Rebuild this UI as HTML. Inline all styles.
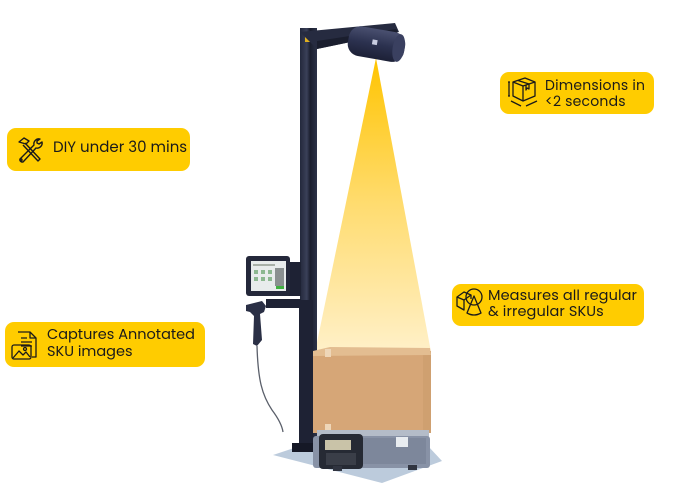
<!DOCTYPE html>
<html><head><meta charset="utf-8"><style>
html,body{margin:0;padding:0;background:#fff;}
body{width:675px;height:500px;position:relative;overflow:hidden;font-family:"Poppins","Liberation Sans",sans-serif;}
.b{position:absolute;background:#ffcc00;border-radius:9px;color:#1a1a1a;}
.t{position:absolute;font-size:14px;line-height:16px;letter-spacing:0;white-space:nowrap;color:#1a1a1a;}
svg.i{position:absolute;}
</style></head><body>

<svg width="675" height="500" style="position:absolute;left:0;top:0">
<defs>
<linearGradient id="cone" x1="0" y1="0" x2="0" y2="1">
<stop offset="0" stop-color="#ffc400"/>
<stop offset="0.5" stop-color="#ffdc70"/>
<stop offset="1" stop-color="#fff0c8"/>
</linearGradient>
<linearGradient id="pole" x1="0" y1="0" x2="1" y2="0">
<stop offset="0" stop-color="#23283c"/>
<stop offset="0.4" stop-color="#3a4058"/>
<stop offset="0.6" stop-color="#1a1e2e"/>
<stop offset="1" stop-color="#2c3248"/>
</linearGradient>
<linearGradient id="cyl" x1="0" y1="0" x2="0" y2="1">
<stop offset="0" stop-color="#4a5070"/>
<stop offset="0.5" stop-color="#2c3250"/>
<stop offset="1" stop-color="#1c2036"/>
</linearGradient>
</defs>
<!-- plate -->
<polygon points="273,455 300,446 428,446 442,461 382,483" fill="#bccbdc"/>
<!-- cone -->
<polygon points="376,58 315,352 431,352" fill="url(#cone)"/>
<!-- pole -->
<rect x="300" y="28" width="17" height="420" fill="url(#pole)"/>
<rect x="299" y="300" width="14" height="148" fill="#1e2234"/>
<rect x="292" y="443" width="21" height="9" fill="#151826"/>
<rect x="305" y="33" width="6" height="9" fill="#e0b020"/>
<!-- beam -->
<polygon points="300,32 395,23 399,32 317,49" fill="#262b40"/>
<polygon points="317,41 396,29 398,32 317,49" fill="#1a1e2e"/>
<!-- camera -->
<g transform="rotate(10 376 44)">
<rect x="348" y="29" width="57" height="30" rx="12" fill="url(#cyl)"/>
<ellipse cx="399" cy="44" rx="6" ry="14" fill="#3a4060"/>
<rect x="372" y="40" width="5" height="5" fill="#c8cce0"/>
</g>
<!-- monitor mount -->
<rect x="284" y="262" width="17" height="34" fill="#1e2234"/>
<rect x="266" y="299" width="35" height="9" fill="#1e2234"/>
<!-- monitor -->
<rect x="246" y="256" width="44" height="40" rx="3" fill="#24283a"/>
<rect x="251" y="261" width="35" height="30" fill="#e8ecec"/>
<rect x="253" y="264" width="22" height="2" fill="#a8b0a8"/>
<rect x="254" y="270" width="4" height="4" fill="#8cb890"/>
<rect x="261" y="270" width="4" height="4" fill="#8cb890"/>
<rect x="268" y="270" width="4" height="4" fill="#8cb890"/>
<rect x="254" y="277" width="4" height="4" fill="#8cb890"/>
<rect x="261" y="277" width="4" height="4" fill="#8cb890"/>
<rect x="268" y="277" width="4" height="4" fill="#8cb890"/>
<rect x="275" y="268" width="9" height="18" fill="#8a9090"/>
<rect x="276" y="286" width="8" height="3" fill="#40b040"/>
<!-- scanner -->
<path d="M246,305 L262,301 L266,306 L264,312 L260,314 L262,340 L257,346 L253,344 L254,316 L250,312 L246,311 Z" fill="#2a2f45"/>
<path d="M257,346 C258,380 262,395 272,410 C278,418 282,425 283,432" stroke="#5a5f6a" stroke-width="1.3" fill="none"/>
<!-- box -->
<rect x="313" y="351" width="118" height="82" fill="#d6a677"/>
<rect x="423" y="351" width="8" height="82" fill="#cfa070"/>
<polygon points="313,351 330,347 430,348 431,355 313,356" fill="#e3bd91"/>
<rect x="325" y="349" width="6" height="8" fill="#eed6b8"/>
<rect x="325" y="424" width="6" height="9" fill="#eed6b8"/>
<!-- scale -->
<rect x="317" y="430" width="112" height="8" fill="#b4bcc8"/>
<rect x="313" y="436" width="117" height="32" rx="3" fill="#8892a6"/>
<rect x="360" y="438" width="66" height="26" fill="#7d879b"/>
<rect x="396" y="437" width="12" height="10" fill="#e8ecf0"/>
<rect x="319" y="434" width="44" height="35" rx="4" fill="#262a34"/>
<rect x="325" y="440" width="26" height="10" fill="#c9c3a8"/>
<rect x="326" y="453" width="30" height="12" fill="#3a3e48"/>
<rect x="333" y="466" width="9" height="5" fill="#303440"/>
<rect x="408" y="465" width="9" height="5" fill="#303440"/>
</svg>

<!-- DIY -->
<div class="b" style="left:7px;top:128px;width:183px;height:43px"></div>
<svg class="i" style="left:15px;top:135px" width="30" height="30" viewBox="0 0 30 30" fill="none" stroke="#1a1a1a" stroke-width="1.4" stroke-linejoin="round">
<path d="M4,7 L9,3 L14,6 L11,9 Z"/>
<path d="M10,8 L25,24 L23,26 L8,10"/>
<path d="M25,4 A5,5 0 0 0 19,10 L5,24 A2.5,2.5 0 0 0 8,27 L21,13 A5,5 0 0 0 27,7 L24,9 L22,8 L22,6 Z"/>
<circle cx="6" cy="25" r="1"/>
</svg>
<div class="t" style="left:53px;top:140px;font-size:15px">DIY under 30 mins</div>

<!-- Dimensions -->
<div class="b" style="left:500px;top:72px;width:154px;height:42px"></div>
<svg class="i" style="left:505px;top:74px" width="36" height="34" viewBox="0 0 36 34" fill="none" stroke="#1a1a1a" stroke-width="1.3" stroke-linejoin="round">
<path d="M8,8 L20,4 L30,8 L18,12 Z"/>
<path d="M8,8 L8,22 L18,27 L18,12"/>
<path d="M30,8 L30,22 L18,27"/>
<path d="M13,6.5 L24,10 L24,15 L22,14 L21,16 L21,11"/>
<path d="M4,8 L4,22 M3,8 L5,8 M3,22 L5,22"/>
<path d="M6,27 L16,32 M21,32 L32,27"/>
</svg>
<div class="t" style="left:545px;top:77px;font-size:14px;letter-spacing:0.2px">Dimensions in</div>
<div class="t" style="left:545px;top:93px;font-size:14px;letter-spacing:0.2px">&lt;2 seconds</div>

<!-- Measures -->
<div class="b" style="left:452px;top:284px;width:192px;height:42px"></div>
<svg class="i" style="left:454px;top:285px" width="34" height="36" viewBox="0 0 34 36" fill="none" stroke="#1a1a1a" stroke-width="1.3" stroke-linejoin="round">
<path d="M3,12 L10,7 L17,10 L10,15 Z"/>
<path d="M3,12 L3,21 L10,25 L10,15 M17,10 L17,14"/>
<circle cx="20" cy="12" r="8"/>
<path d="M20,11 L13,28 Q20,32 27,28 Z"/>
</svg>
<div class="t" style="left:488px;top:288px;font-size:14.5px;letter-spacing:0.1px">Measures all regular</div>
<div class="t" style="left:488px;top:304px;font-size:14.5px;letter-spacing:0.1px">&amp; irregular SKUs</div>

<!-- Captures -->
<div class="b" style="left:5px;top:322px;width:200px;height:45px"></div>
<svg class="i" style="left:8px;top:328px" width="34" height="34" viewBox="0 0 34 34" fill="none" stroke="#1a1a1a" stroke-width="1.3" stroke-linejoin="round">
<path d="M10,4 L22,4 L28,10 L28,29 L24,29"/>
<path d="M22,4 L22,10 L28,10"/>
<path d="M13,10 L19,10 M13,14 L24,14 M13,18 L24,18"/>
<rect x="4" y="17" width="19" height="14" rx="2"/>
<path d="M5,30 L11,23 L15,27 L18,24 L22,29"/>
<circle cx="17" cy="21" r="1.5"/>
</svg>
<div class="t" style="left:47px;top:327px;font-size:14.5px">Captures Annotated</div>
<div class="t" style="left:47px;top:344px;font-size:14.5px">SKU images</div>

</body></html>
